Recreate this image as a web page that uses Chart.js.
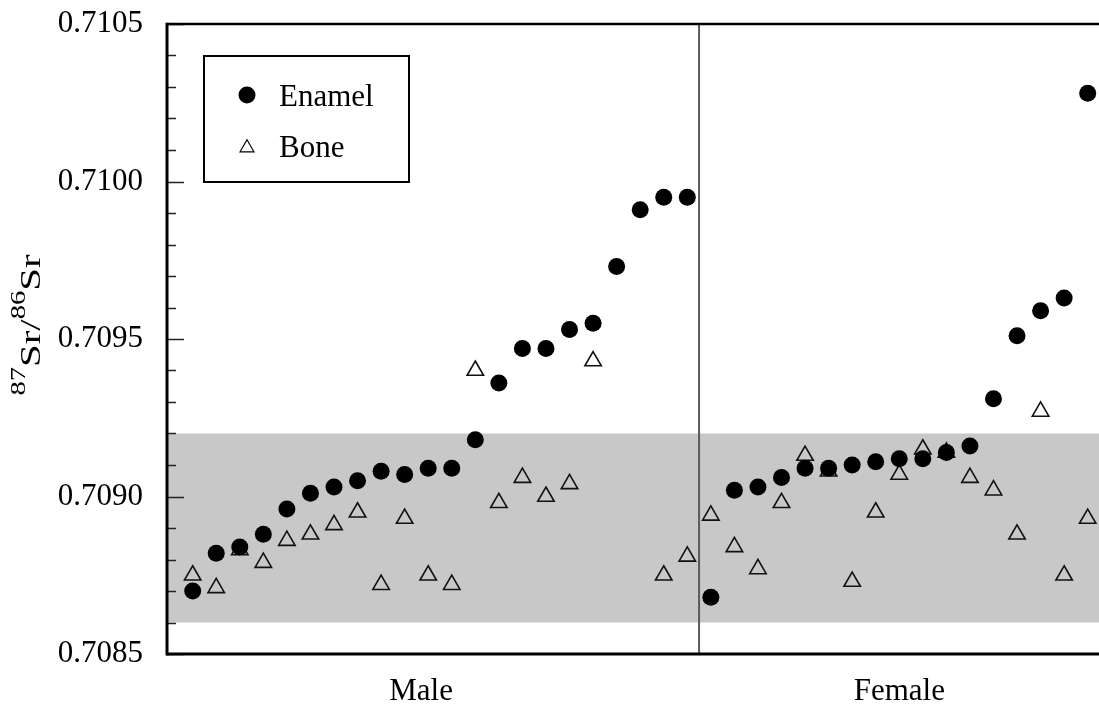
<!DOCTYPE html>
<html>
<head>
<meta charset="utf-8">
<script src="https://cdn.jsdelivr.net/npm/chart.js@4"></script>
<style>
html,body{margin:0;padding:0;background:#fff;}
#wrap{width:1099px;height:704px;}
</style>
</head>
<body>
<div id="wrap"><canvas id="c" width="1099" height="704"></canvas></div>
<script>
// ---- data ----
const maleIndex = [1,2,3,4,5,6,7,8,9,10,11,12,13,14,15,16,17,18,19,20,21,22];
const femaleIndex = [23,24,25,26,27,28,29,30,31,32,33,34,35,36,37,38,39];
const maleEnamel = [0.70870,0.70882,0.70884,0.70888,0.70896,0.70901,0.70903,0.70905,0.70908,0.70907,0.70909,0.70909,0.70918,0.70936,0.70947,0.70947,0.70953,0.70955,0.70973,0.70991,0.70995,0.70995];
const maleBone = [0.70875,0.70871,0.70883,0.70879,0.70886,0.70888,0.70891,0.70895,0.70872,0.70893,0.70875,0.70872,0.70940,0.70898,0.70906,0.70900,0.70904,0.70943,null,null,0.70875,0.70881];
const femaleEnamel = [0.70868,0.70902,0.70903,0.70906,0.70909,0.70909,0.70910,0.70911,0.70912,0.70912,0.70914,0.70916,0.70931,0.70951,0.70959,0.70963,0.71028];
const femaleBone = [0.70894,0.70884,0.70877,0.70898,0.70913,0.70908,0.70873,0.70895,0.70907,0.70915,0.70914,0.70906,0.70902,0.70888,0.70927,0.70875,0.70893];
const yTickValues = [0.7085,0.7086,0.7087,0.7088,0.7089,0.7090,0.7091,0.7092,0.7093,0.7094,0.7095,0.7096,0.7097,0.7098,0.7099,0.7100,0.7101,0.7102,0.7103,0.7104,0.7105];
const yTickLabels = ['0.7085','','','','','0.7090','','','','','0.7095','','','','','0.7100','','','','','0.7105'];
const bandRange = [0.7086, 0.7092];
const groupDivider = 22.5;
const groupLabels = ['Male','Female'];
const groupLabelPos = [10.7, 31.0];
const seriesNames = ['Enamel','Bone'];

function pts(xs, ys){ const o=[]; xs.forEach((x,i)=>{ if(ys[i]!==null) o.push({x:x,y:ys[i]}); }); return o; }
const enamelPts = pts(maleIndex, maleEnamel).concat(pts(femaleIndex, femaleEnamel));
const bonePts = pts(maleIndex, maleBone).concat(pts(femaleIndex, femaleBone));

const FONT = '"Liberation Serif","Times New Roman",serif';

const decor = {
  id:'decor',
  beforeDatasetsDraw(chart){
    const {ctx, chartArea:a, scales:{x,y}} = chart;
    ctx.save();
    const yt = y.getPixelForValue(bandRange[1]), yb = y.getPixelForValue(bandRange[0]);
    ctx.fillStyle = 'rgb(200,200,200)';
    ctx.fillRect(a.left, yt, a.right - a.left, yb - yt);
    const xd = x.getPixelForValue(groupDivider);
    ctx.strokeStyle = '#5a5a5a'; ctx.lineWidth = 2;
    ctx.beginPath(); ctx.moveTo(xd, a.top); ctx.lineTo(xd, a.bottom); ctx.stroke();
    ctx.restore();
  },
  afterDraw(chart){
    const {ctx, chartArea:a, scales:{x,y}} = chart;
    ctx.save();
    // inward ticks
    ctx.strokeStyle = '#222'; ctx.lineWidth = 1.5;
    y.ticks.forEach((t,i)=>{
      const py = Math.round(y.getPixelForValue(t.value)) + 0.5;
      const len = yTickLabels[i] ? 17 : 9;
      ctx.beginPath(); ctx.moveTo(a.left, py); ctx.lineTo(a.left + len, py); ctx.stroke();
    });
    // frame
    ctx.strokeStyle = '#000';
    ctx.lineWidth = 2.5;
    ctx.beginPath(); ctx.moveTo(a.left, a.top); ctx.lineTo(a.right, a.top); ctx.stroke();
    ctx.lineWidth = 3;
    ctx.beginPath(); ctx.moveTo(a.left, a.top - 1.2); ctx.lineTo(a.left, a.bottom + 1.5); ctx.stroke();
    ctx.beginPath(); ctx.moveTo(a.left, a.bottom); ctx.lineTo(a.right, a.bottom); ctx.stroke();
    // group labels
    ctx.fillStyle = '#000';
    ctx.font = '31px ' + FONT;
    ctx.textAlign = 'center'; ctx.textBaseline = 'alphabetic';
    groupLabels.forEach((g,i)=> ctx.fillText(g, x.getPixelForValue(groupLabelPos[i]), 700));
    // legend
    ctx.fillStyle = '#fff';
    ctx.fillRect(204, 56, 205, 126);
    ctx.lineWidth = 2; ctx.strokeStyle = '#000';
    ctx.strokeRect(204, 56, 205, 126);
    ctx.fillStyle = '#000';
    ctx.beginPath(); ctx.arc(247, 95, 8.5, 0, Math.PI*2); ctx.fill();
    const r = 8;
    ctx.lineWidth = 1.2;
    ctx.beginPath();
    ctx.moveTo(247, 147.8 - r);
    ctx.lineTo(247 + r*Math.sin(2*Math.PI/3), 147.8 + r/2);
    ctx.lineTo(247 - r*Math.sin(2*Math.PI/3), 147.8 + r/2);
    ctx.closePath(); ctx.stroke();
    ctx.textAlign = 'left';
    ctx.font = '31px ' + FONT;
    ctx.fillText(seriesNames[0], 279, 106);
    ctx.fillText(seriesNames[1], 279, 157);
    // y title
    ctx.translate(40, 325);
    ctx.rotate(-Math.PI/2);
    ctx.scale(1.36, 1);
    const parts = [['87',21,-15],['Sr',30,0],['/',30,0],['86',21,-15],['Sr',30,0]];
    let total = 0;
    parts.forEach(p=>{ ctx.font = p[1]+'px '+FONT; p.w = ctx.measureText(p[0]).width; total += p.w; });
    let cx = -total/2;
    ctx.textAlign = 'left';
    parts.forEach(p=>{ ctx.font = p[1]+'px '+FONT; ctx.fillText(p[0], cx, p[2]); cx += p.w; });
    ctx.restore();
  }
};

function zeroPad(s){ s.paddingTop = 0; s.paddingBottom = 0; s.paddingLeft = 0; s.paddingRight = 0; }

new Chart(document.getElementById('c'), {
  type:'scatter',
  data:{
    datasets:[
      {label:seriesNames[0], data:enamelPts, pointStyle:'circle', pointRadius:8.5, pointHoverRadius:8.5, backgroundColor:'#000', borderColor:'#000', borderWidth:0, clip:false},
      {label:seriesNames[1], data:bonePts, pointStyle:'triangle', pointRadius:9.5, pointHoverRadius:9.5, backgroundColor:'rgba(0,0,0,0)', borderColor:'#111', borderWidth:1.6, clip:false}
    ]
  },
  options:{
    responsive:false, animation:false,
    layout:{autoPadding:false, padding:{top:24, bottom:50, left:0, right:0}},
    plugins:{legend:{display:false}, tooltip:{enabled:false}},
    scales:{
      x:{type:'linear', min:-0.09, max:39.48, display:false, afterFit:zeroPad},
      y:{type:'linear', min:0.7085, max:0.7105,
         afterFit(s){ s.width = 167; zeroPad(s); },
         afterBuildTicks(s){ s.ticks = yTickValues.map(v=>({value:v})); },
         grid:{display:false, drawTicks:false},
         border:{display:false},
         ticks:{autoSkip:false, padding:24, color:'#000', font:{family:FONT, size:31},
                callback:(v,i)=>yTickLabels[i]}
      }
    }
  },
  plugins:[decor]
});
</script>
</body>
</html>
